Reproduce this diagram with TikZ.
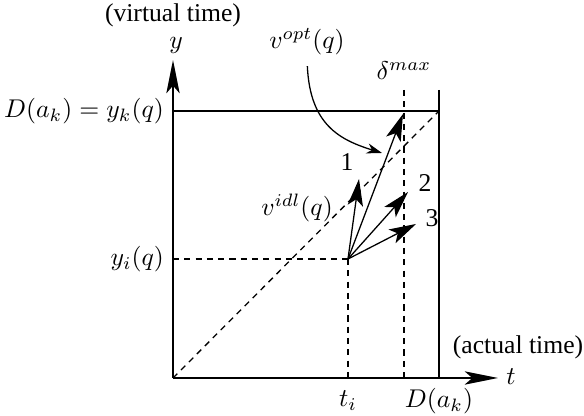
\documentclass[tikz,border=0pt]{standalone}
\usepackage{fontspec}
\setmainfont{Liberation Serif}
\usepackage{amsmath}
\usetikzlibrary{arrows.meta, positioning, calc}
\tikzstyle{axis} = [line width=0.8pt, -{Stealth[length=13pt, width=5.2pt, inset=3pt]}]
\tikzstyle{vel} = [line width=0.5pt, -{Stealth[length=10.5pt, width=6pt, inset=2.5pt]}]
\tikzstyle{guide} = [line width=0.5pt, dash pattern=on 2.4pt off 2pt]
\tikzstyle{bound} = [line width=0.6pt]
\tikzstyle{lbl} = [inner sep=1pt]

\begin{document}
\begin{tikzpicture}[x=0.39pt, y=-0.39pt]
    \useasboundingbox (0,0) rectangle (584,416);
    % axes and box corners
    \coordinate (o) at (173,378);
    \coordinate (ytip) at (173,60);
    \coordinate (xtip) at (498,378);
    \coordinate (tl) at (173,111);
    \coordinate (tr) at (439,111);
    \coordinate (rt) at (439,90);
    \coordinate (rb) at (439,378);
    \coordinate (dt) at (404,90);
    \coordinate (db) at (404,378);
    \coordinate (p) at (348,259);
    \coordinate (pb) at (348,378);
    \coordinate (pl) at (173,259);
    % arrow tips
    \coordinate (a1) at (359,179);
    \coordinate (aopt) at (403,114);
    \coordinate (a2) at (408,192);
    \coordinate (a3) at (416,224);
    \coordinate (hit) at (382,153);

    \node (vt) [lbl] at (173,15) {(virtual time)};
    \node (at) [lbl] at (518,347) {(actual time)};
    \node (ylab) [lbl] at (176,45) {$y$};
    \node (tlab) [lbl] at (511,377) {$t$};
    \node (dy) [lbl, anchor=east] at (167,111) {$D(a_k) = y_k(q)$};
    \node (yi) [lbl, anchor=east] at (167,259) {$y_i(q)$};
    \node (ti) [lbl] at (348,401) {$t_i$};
    \node (dx) [lbl] at (439,401) {$D(a_k)$};
    \node (dm) [lbl] at (404,71) {$\delta^{max}$};
    \node (vopt) [lbl] at (307,42) {$v^{opt}(q)$};
    \node (vidl) [lbl] at (297,208) {$v^{idl}(q)$};
    \node (n1) [lbl] at (347,162) {1};
    \node (n2) [lbl] at (425,183) {2};
    \node (n3) [lbl] at (432,218) {3};

    \draw [axis] (o) -- (ytip);
    \draw [axis] (o) -- (xtip);
    \draw [bound] (tl) -- (tr);
    \draw [bound] (rt) -- (rb);
    \draw [guide] (o) -- (tr);
    \draw [guide] (dt) -- (db);
    \draw [guide] (p) -- (pb);
    \draw [guide] (pl) -- (p);

    \draw [vel] (p) -- (a1);
    \draw [vel] (p) -- (aopt);
    \draw [vel] (p) -- (a2);
    \draw [vel] (p) -- (a3);
    \draw [line width=0.5pt, -{Stealth[length=6pt, width=4pt]}, shorten <=3pt]
        (vopt.south) .. controls (310,125) and (340,140) .. (hit);
\end{tikzpicture}
\end{document}
